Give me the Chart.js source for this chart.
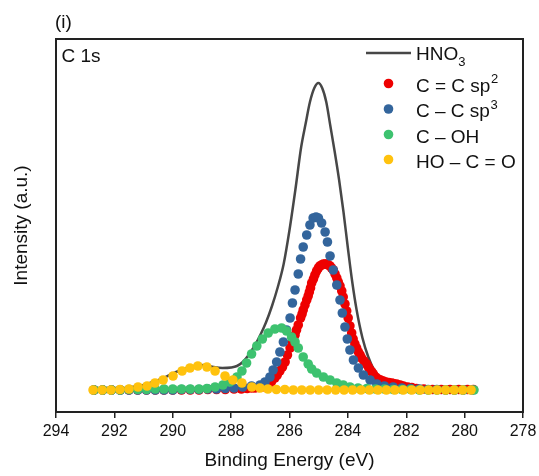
<!DOCTYPE html>
<html>
<head>
<meta charset="utf-8">
<script src="https://cdn.jsdelivr.net/npm/chart.js@4.4.1/dist/chart.umd.min.js"></script>
<style>
  html, body { margin: 0; padding: 0; background: #fff; }
  #wrap { width: 539px; height: 476px; position: relative; }
</style>
</head>
<body>
<div id="wrap"><canvas id="c" width="539" height="476"></canvas></div>
<script>
// ---------------- data (binding energy eV, intensity a.u.) ----------------
const panelLabel = "(i)";
const regionLabel = "C 1s";
const xTitle = "Binding Energy (eV)";
const yTitle = "Intensity (a.u.)";
const xTickMin = 278, xTickMax = 294, xTickStep = 2;

const seriesNames = ["HNO3", "C = C sp2", "C \u2013 C sp3", "C \u2013 OH", "HO \u2013 C = O"];

const hno3 = [
  [292.75,0.5],[292.40,1],[292.00,1.5],[291.60,2],[291.30,3.5],[291.00,5],[290.70,8],[290.40,11],
  [290.10,15],[289.80,19],[289.50,22],[289.20,24.5],[288.90,25],[288.60,23],[288.30,22],[288.00,22.5],
  [287.80,24],[287.60,28],[287.40,35],[287.20,44],[287.00,55],[286.80,68],[286.60,84],[286.40,103],
  [286.20,126],[286.00,160],[285.80,200],[285.60,243],[285.45,266],[285.30,288],[285.15,302],[285.01,307],
  [284.88,302],[284.74,288],[284.60,264],[284.45,238],[284.30,210],[284.15,178],[284.00,142],[283.85,108],
  [283.70,80],[283.50,52],[283.30,33],[283.10,20],[282.90,13],[282.70,9.5],[282.50,7],[282.20,5],
  [281.90,3.5],[281.50,2.5],[281.00,1.5],[280.50,1],[279.75,0.5]
];

const sp2 = [
  [292.70,0],[292.40,0],[292.10,0],[291.80,0],[291.50,0],[291.20,0],[290.90,0],[290.60,0],[290.30,0],
  [290.00,0],[289.70,0],[289.40,0],[289.10,0],[288.80,0.5],[288.50,0.5],[288.20,0.5],[287.90,1],[287.65,1],
  [287.45,1.5],[287.30,2],[287.18,2],[287.06,2.5],[286.94,3],[286.84,4],[286.73,6],[286.62,8],[286.50,12],
  [286.42,15],[286.33,19],[286.24,23],[286.15,28],[286.07,35],[285.98,42],[285.90,48],[285.81,55],[285.76,60],
  [285.70,65],[285.62,72],[285.57,76],[285.53,80],[285.47,85],[285.41,90],[285.36,94],[285.32,98],[285.28,102],
  [285.24,107],[285.18,111],[285.13,115],[285.07,119],[285.01,122],[284.96,124],[284.90,125],[284.84,126],
  [284.78,126],[284.72,126],[284.67,125],[284.61,124],[284.56,122],[284.50,120],[284.44,116],[284.38,112],
  [284.33,108],[284.27,104],[284.21,99],[284.16,93],[284.10,86],[284.04,79],[283.99,72],[283.93,64],
  [283.87,57],[283.82,51],[283.76,46],[283.70,42],[283.64,38],[283.58,35],[283.53,32],[283.45,29],
  [283.36,26],[283.30,23],[283.24,20],[283.18,18],[283.13,16],[283.05,13],[282.96,11],[282.88,10],
  [282.79,9],[282.70,8],[282.60,7.5],[282.50,7],[282.44,6.5],[282.33,6],[282.21,5],[282.10,4],
  [281.95,3],[281.81,2.5],[281.65,1.5],[281.40,1],[281.10,0.5],[280.80,0.5],[280.50,0.5],[280.20,0.5],
  [279.90,0.5],[279.70,0.5]
];

const sp3 = [
  [292.70,0],[292.40,0],[292.10,0],[291.80,0],[291.50,0],[291.20,0],[290.90,0],[290.60,0],[290.30,0],
  [290.00,0],[289.70,0.5],[289.40,0.5],[289.10,0.5],[288.80,1],[288.50,1],[288.20,1.5],[287.90,2],
  [287.60,3],[287.30,4],[287.01,5],[286.84,8],[286.67,13],[286.56,20],[286.44,28],[286.33,38],[286.21,48],
  [286.10,60],[285.98,72],[285.90,87],[285.81,100],[285.70,116],[285.62,131],[285.53,143],[285.41,155],
  [285.30,165],[285.19,172],[285.09,173],[285.01,172],[284.90,167],[284.78,158],[284.70,148],[284.61,134],
  [284.50,120],[284.38,105],[284.27,90],[284.19,77],[284.10,63],[284.02,51],[283.93,40],[283.81,30],
  [283.64,22],[283.47,15],[283.24,10],[283.01,6],[282.75,4],[282.45,3],[282.15,2],[281.85,1.5],
  [281.55,1],[281.25,0.5],[280.95,0.5],[280.65,0],[280.35,0],[280.05,0],[279.75,0]
];

const cOH = [
  [292.70,0],[292.40,0],[292.10,0],[291.80,0],[291.50,0.5],[291.20,0.5],[290.90,0.5],[290.60,1],
  [290.30,1],[290.00,1],[289.70,1],[289.40,1],[289.10,1],[288.83,1.5],[288.55,3],[288.28,5],[288.04,8],
  [287.80,13],[287.63,19],[287.47,27],[287.30,36],[287.12,44],[286.93,51],[286.73,57],[286.50,61],
  [286.27,62],[286.10,59],[285.93,53],[285.81,48],[285.70,42],[285.53,33],[285.36,26],[285.24,21],
  [285.07,17],[284.84,13],[284.61,10],[284.38,7],[284.16,5],[283.93,3],[283.65,2],[283.35,1.5],
  [283.05,1],[282.75,1],[282.45,0.5],[282.15,0.5],[281.85,0.5],[281.55,0],[281.25,0],[280.95,0],
  [280.65,0],[280.35,0],[280.05,0],[279.68,0]
];

const hoco = [
  [292.73,0],[292.42,0],[292.12,0],[291.81,0.5],[291.50,1],[291.19,3],[290.88,4],[290.61,7],[290.33,10],
  [289.99,14],[289.68,19],[289.41,22],[289.14,24],[288.83,23],[288.55,19],[288.21,14],[287.94,10],
  [287.63,7],[287.29,3],[287.01,2],[286.74,1],[286.45,0.5],[286.16,0.5],[285.87,0],[285.58,0],[285.29,0],
  [285.00,0],[284.71,0],[284.42,0],[284.13,0],[283.84,0],[283.55,0],[283.26,0],[282.97,0],[282.68,0],
  [282.39,0],[282.10,0],[281.81,0],[281.52,0],[281.23,0],[280.94,0],[280.65,0],[280.36,0],[280.07,0],
  [279.78,0]
];

// ---------------- styles ----------------
const colors = { hno3: "#474747", sp2: "#ee0000", sp3: "#33659c", coh: "#3dc26f", hoco: "#ffc20e" };
const FONT = "'Liberation Sans', Arial, sans-serif";
const toPts = arr => arr.map(p => ({ x: p[0], y: p[1] }));

function dotSet(label, arr, color, order) {
  return {
    label, data: toPts(arr), showLine: false,
    pointRadius: 4.8, pointHoverRadius: 4.8, pointBorderWidth: 0,
    pointBackgroundColor: color, backgroundColor: color, borderColor: color, order
  };
}

const overlay = {
  id: "overlay",
  afterDraw(chart) {
    const ctx = chart.ctx;
    const a = chart.chartArea;
    ctx.save();
    // frame
    ctx.strokeStyle = "#222";
    ctx.lineWidth = 2;
    ctx.strokeRect(a.left, a.top, a.right - a.left, a.bottom - a.top);
    ctx.fillStyle = "#111";
    ctx.textBaseline = "alphabetic";
    ctx.textAlign = "left";
    ctx.font = "19px " + FONT;
    ctx.fillText(panelLabel, 55, 27.5);
    ctx.fillText(regionLabel, 61.5, 62);
    // axis titles
    ctx.textAlign = "center";
    ctx.fillText(xTitle, (a.left + a.right) / 2, 466);
    ctx.save();
    ctx.translate(26.5, (a.top + a.bottom) / 2);
    ctx.rotate(-Math.PI / 2);
    ctx.fillText(yTitle, 0, 0);
    ctx.restore();
    // legend
    ctx.textAlign = "left";
    ctx.strokeStyle = colors.hno3;
    ctx.lineWidth = 2.5;
    ctx.beginPath(); ctx.moveTo(366, 53); ctx.lineTo(411, 53); ctx.stroke();
    ctx.font = "19px " + FONT;
    ctx.fillText("HNO", 416, 60);
    let w = ctx.measureText("HNO").width;
    ctx.font = "13px " + FONT;
    ctx.fillText("3", 416 + w, 66);
    const rows = [
      { main: "C = C sp", sup: "2", color: colors.sp2, y: 83.5 },
      { main: "C \u2013 C sp", sup: "3", color: colors.sp3, y: 109 },
      { main: "C \u2013 OH", sup: "", color: colors.coh, y: 134.5 },
      { main: "HO \u2013 C = O", sup: "", color: colors.hoco, y: 159.5 }
    ];
    rows.forEach(r => {
      ctx.fillStyle = r.color;
      ctx.beginPath(); ctx.arc(388.5, r.y, 4.8, 0, Math.PI * 2); ctx.fill();
      ctx.fillStyle = "#111";
      ctx.font = "19px " + FONT;
      ctx.fillText(r.main, 416, r.y + 8);
      if (r.sup) {
        const mw = ctx.measureText(r.main).width;
        ctx.font = "13px " + FONT;
        ctx.fillText(r.sup, 416 + mw + 0.5, r.y - 0.5);
      }
    });
    ctx.restore();
  }
};

new Chart(document.getElementById("c"), {
  type: "scatter",
  data: {
    datasets: [
      {
        label: seriesNames[0], data: toPts(hno3), showLine: true, pointRadius: 0, pointHoverRadius: 0,
        borderColor: colors.hno3, borderWidth: 2.5, cubicInterpolationMode: "monotone", fill: false, order: 5
      },
      dotSet(seriesNames[1], sp2, colors.sp2, 4),
      dotSet(seriesNames[2], sp3, colors.sp3, 3),
      dotSet(seriesNames[3], cOH, colors.coh, 2),
      dotSet(seriesNames[4], hoco, colors.hoco, 1)
    ]
  },
  options: {
    responsive: false, animation: false, devicePixelRatio: 1,
    layout: { padding: { left: 56, right: 16, top: 39, bottom: 0 } },
    plugins: { legend: { display: false }, tooltip: { enabled: false } },
    scales: {
      x: {
        type: "linear", reverse: true, min: xTickMin, max: xTickMax,
        border: { display: false },
        grid: { display: true, drawOnChartArea: false, drawTicks: true, tickLength: 6, color: "#222", lineWidth: 1.5 },
        ticks: { stepSize: xTickStep, color: "#111", font: { family: FONT, size: 16, lineHeight: 1.5 }, padding: 2, maxRotation: 0 },
        afterFit(scale) { scale.height = 64; }
      },
      y: { display: false, min: -22, max: 351 }
    }
  },
  plugins: [overlay]
});
</script>
</body>
</html>
